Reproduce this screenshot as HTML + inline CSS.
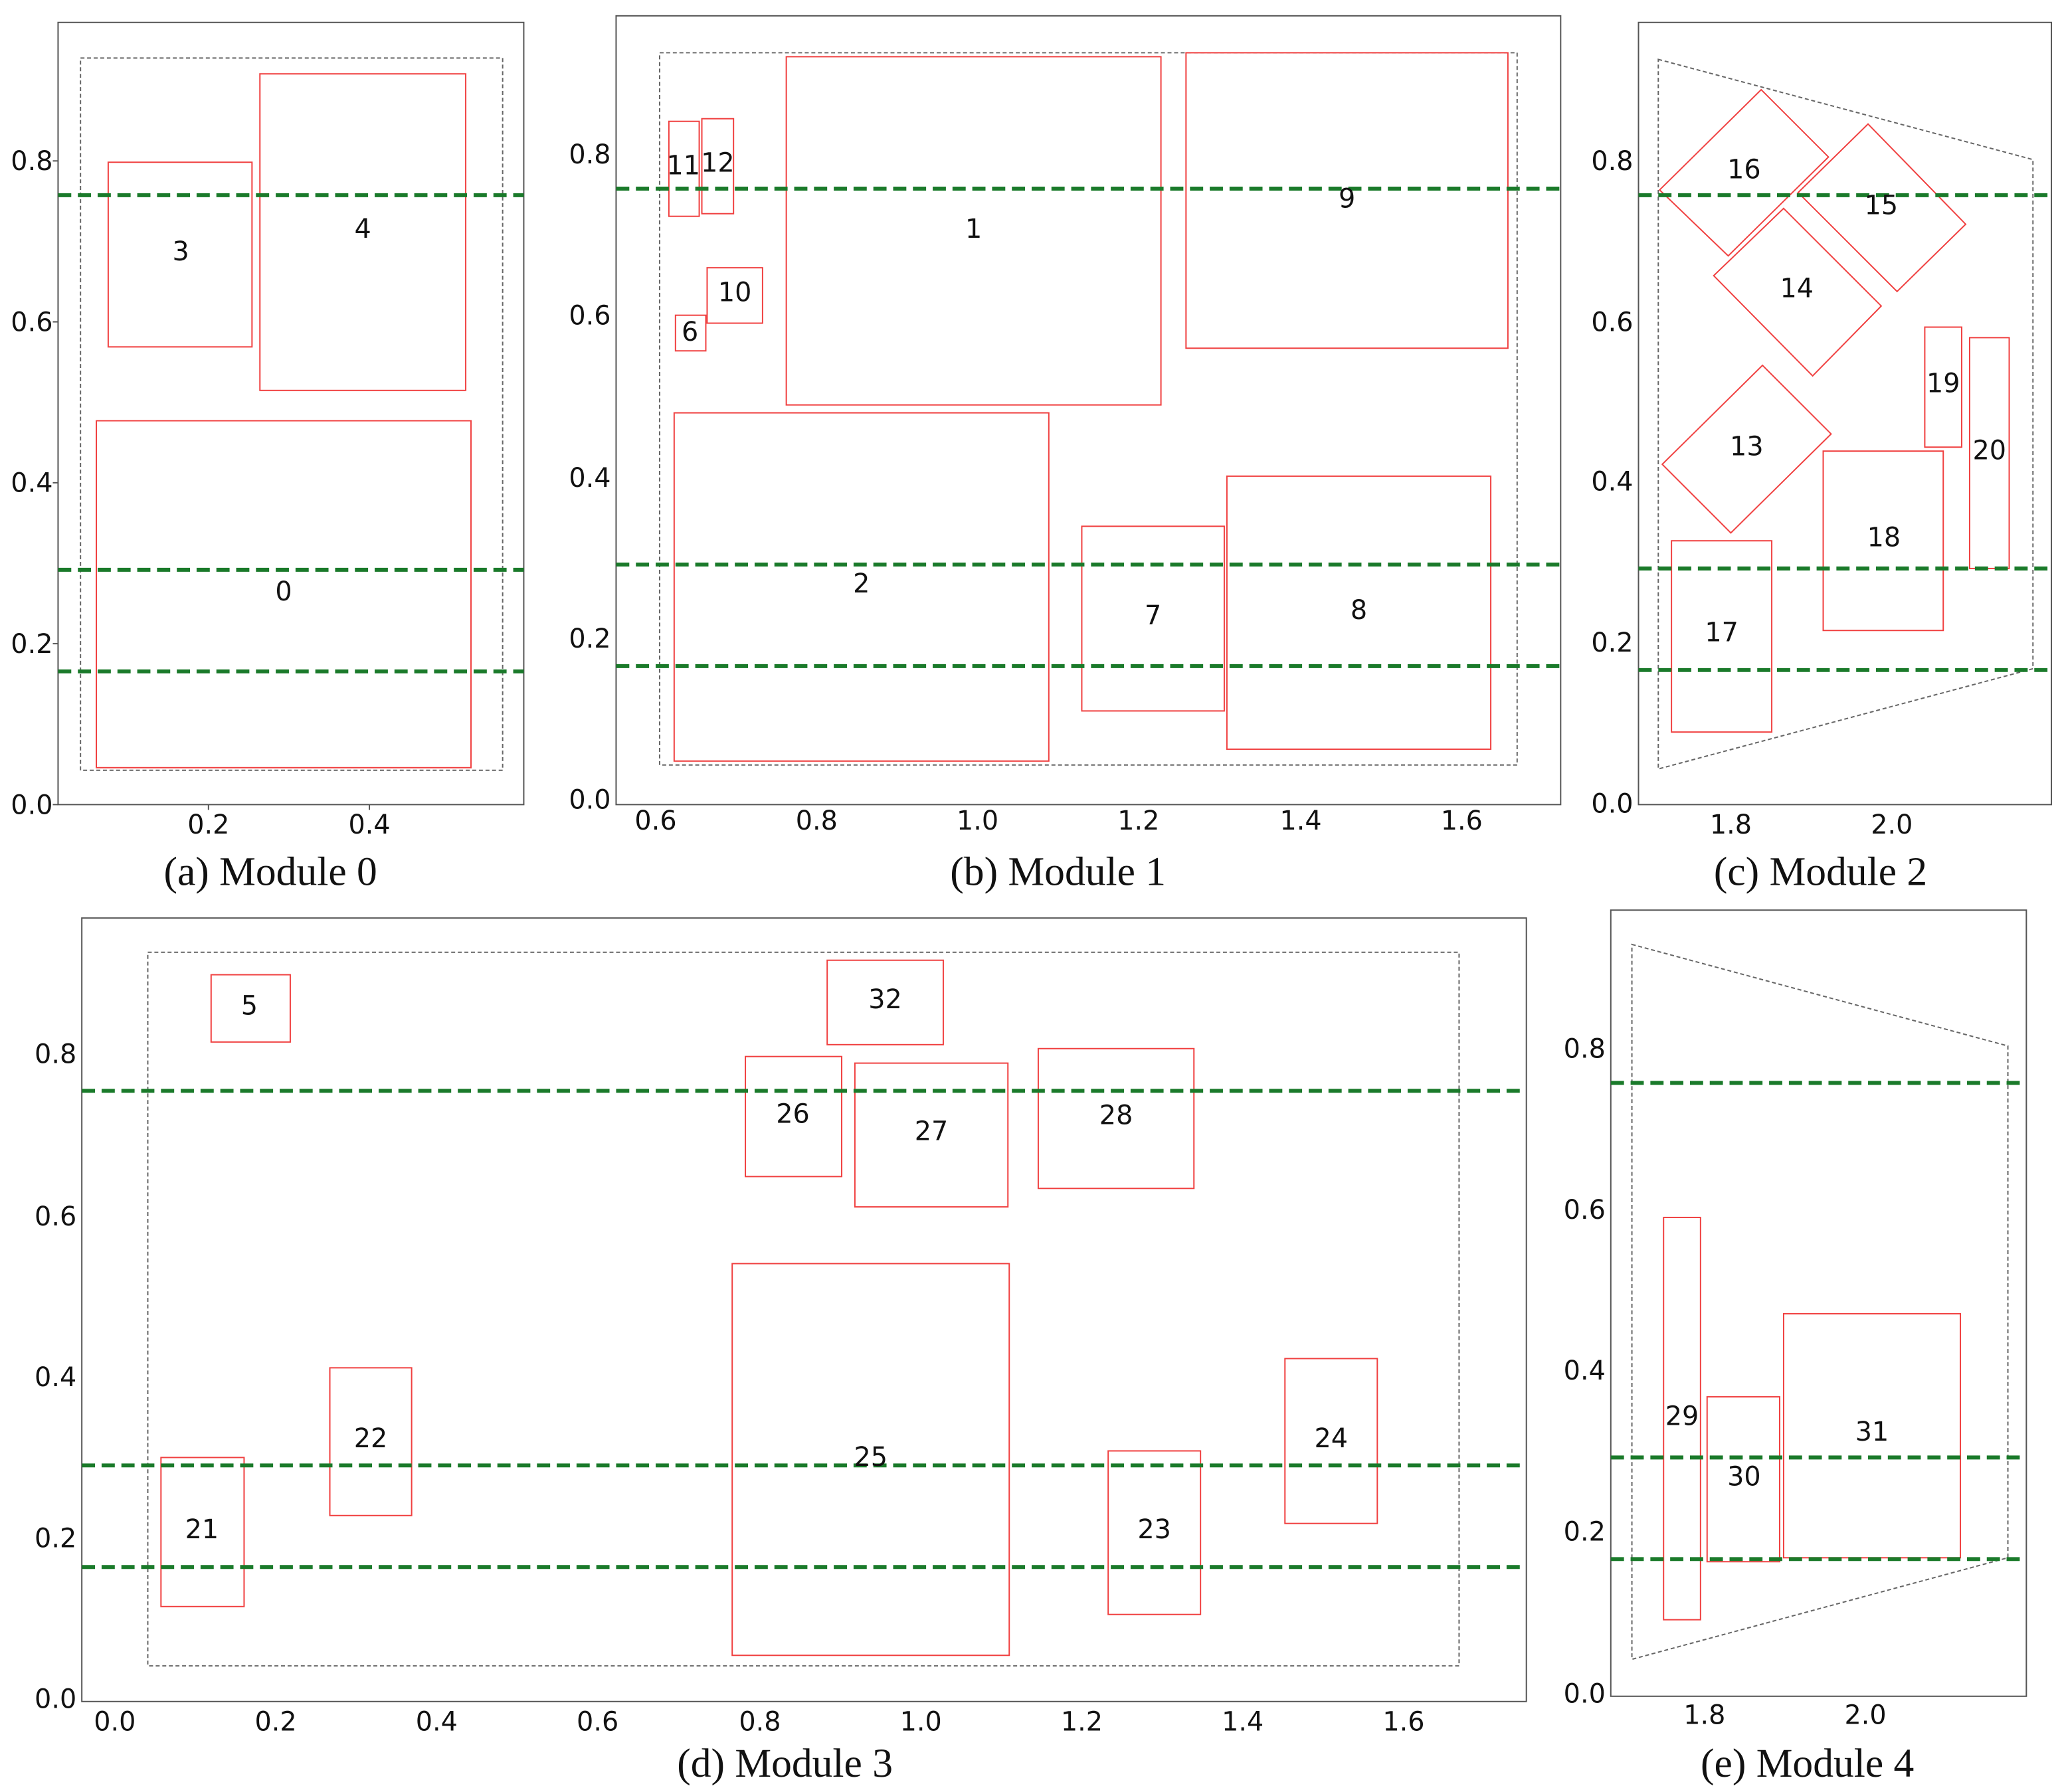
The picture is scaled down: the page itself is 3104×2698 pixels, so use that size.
<!DOCTYPE html>
<html><head><meta charset="utf-8"><style>
html,body{margin:0;padding:0;background:#fff;}
svg{display:block}
.fr{fill:none;stroke:#555;stroke-width:1}
.db{fill:none;stroke:#666;stroke-width:1;stroke-dasharray:3,2}
.g{stroke:#1a7a2a;stroke-width:3;stroke-dasharray:10,5}
.r{fill:none;stroke:#f04040;stroke-width:1}
.t{font-family:"DejaVu Sans","Liberation Sans",sans-serif;font-size:20px;fill:#111}
.l{font-family:"DejaVu Sans","Liberation Sans",sans-serif;font-size:20px;fill:#111;text-anchor:middle;dominant-baseline:middle}
.c{font-family:"Liberation Serif",serif;font-size:31px;fill:#111;text-anchor:middle}
.tk{stroke:#555;stroke-width:1}
</style></head><body>
<svg width="3104" height="2698" viewBox="0 0 1563 1358.6" xmlns="http://www.w3.org/2000/svg">
<!-- Panel a -->
<rect class="fr" x="44" y="17" width="353" height="593"/>
<rect class="db" x="61" y="44" width="320" height="540"/>
<g class="t" text-anchor="end">
<text x="40" y="617">0.0</text><text x="40" y="495">0.2</text><text x="40" y="373">0.4</text><text x="40" y="251">0.6</text><text x="40" y="129">0.8</text></g>
<g class="t" text-anchor="middle"><text x="158" y="632">0.2</text><text x="280" y="632">0.4</text></g>
<g class="tk"><line x1="40" y1="610" x2="44" y2="610"/><line x1="40" y1="488" x2="44" y2="488"/><line x1="40" y1="366" x2="44" y2="366"/><line x1="40" y1="244" x2="44" y2="244"/><line x1="40" y1="122" x2="44" y2="122"/><line x1="158" y1="610" x2="158" y2="614"/><line x1="280" y1="610" x2="280" y2="614"/></g>
<rect class="r" x="82" y="123" width="109" height="140"/><rect class="r" x="197" y="56" width="156" height="240"/><rect class="r" x="73" y="319" width="284" height="263"/>
<line class="g" x1="44" y1="148" x2="397" y2="148"/><line class="g" x1="44" y1="432" x2="397" y2="432"/><line class="g" x1="44" y1="509" x2="397" y2="509"/>
<text class="l" x="137" y="192">3</text><text class="l" x="275" y="175">4</text><text class="l" x="215" y="450">0</text>
<text class="c" x="205" y="671">(a) Module 0</text>

<!-- Panel b -->
<rect class="fr" x="467" y="12" width="716" height="598"/>
<rect class="db" x="500" y="40" width="650" height="540"/>
<g class="t" text-anchor="end">
<text x="463" y="613">0.0</text><text x="463" y="491">0.2</text><text x="463" y="369">0.4</text><text x="463" y="246">0.6</text><text x="463" y="124">0.8</text></g>
<g class="t" text-anchor="middle"><text x="497" y="629">0.6</text><text x="619" y="629">0.8</text><text x="741" y="629">1.0</text><text x="863" y="629">1.2</text><text x="986" y="629">1.4</text><text x="1108" y="629">1.6</text></g>
<rect class="r" x="507" y="92" width="23" height="72"/><rect class="r" x="532" y="90" width="24" height="72"/><rect class="r" x="536" y="203" width="42" height="42"/><rect class="r" x="512" y="239" width="23" height="27"/>
<rect class="r" x="596" y="43" width="284" height="264"/><rect class="r" x="899" y="40" width="244" height="224"/><rect class="r" x="511" y="313" width="284" height="264"/><rect class="r" x="820" y="399" width="108" height="140"/><rect class="r" x="930" y="361" width="200" height="207"/>
<line class="g" x1="467" y1="143" x2="1183" y2="143"/><line class="g" x1="467" y1="428" x2="1183" y2="428"/><line class="g" x1="467" y1="505" x2="1183" y2="505"/>
<text class="l" x="518" y="127">11</text><text class="l" x="544" y="125">12</text><text class="l" x="557" y="223">10</text><text class="l" x="523" y="253">6</text><text class="l" x="738" y="175">1</text><text class="l" x="1021" y="152">9</text><text class="l" x="653" y="444">2</text><text class="l" x="874" y="468">7</text><text class="l" x="1030" y="464">8</text>
<text class="c" x="802" y="671">(b) Module 1</text>

<!-- Panel c -->
<rect class="fr" x="1242" y="17" width="313" height="593"/>
<polygon class="db" points="1257,45 1541,121 1541,507 1257,583"/>
<g class="t" text-anchor="end">
<text x="1238" y="616">0.0</text><text x="1238" y="494">0.2</text><text x="1238" y="372">0.4</text><text x="1238" y="251">0.6</text><text x="1238" y="129">0.8</text></g>
<g class="t" text-anchor="middle"><text x="1312" y="632">1.8</text><text x="1434" y="632">2.0</text></g>
<polygon class="r" points="1335,68 1386,119 1310,194 1258,144"/>
<polygon class="r" points="1416,94 1490,170 1438,221 1363,146"/>
<polygon class="r" points="1352,158 1426,232 1374,285 1299,209"/>
<polygon class="r" points="1336,277 1388,329 1312,404 1260,352"/>
<rect class="r" x="1459" y="248" width="28" height="91"/><rect class="r" x="1493" y="256" width="30" height="175"/><rect class="r" x="1382" y="342" width="91" height="136"/><rect class="r" x="1267" y="410" width="76" height="145"/>
<line class="g" x1="1242" y1="148" x2="1555" y2="148"/><line class="g" x1="1242" y1="431" x2="1555" y2="431"/><line class="g" x1="1242" y1="508" x2="1555" y2="508"/>
<text class="l" x="1322" y="130">16</text><text class="l" x="1426" y="157">15</text><text class="l" x="1362" y="220">14</text><text class="l" x="1324" y="340">13</text><text class="l" x="1473" y="292">19</text><text class="l" x="1508" y="343">20</text><text class="l" x="1428" y="409">18</text><text class="l" x="1305" y="481">17</text>
<text class="c" x="1380" y="671">(c) Module 2</text>

<!-- Panel d -->
<rect class="fr" x="62" y="696" width="1095" height="594"/>
<rect class="db" x="112" y="722" width="994" height="541"/>
<g class="t" text-anchor="end">
<text x="58" y="1295">0.0</text><text x="58" y="1173">0.2</text><text x="58" y="1051">0.4</text><text x="58" y="929">0.6</text><text x="58" y="806">0.8</text></g>
<g class="t" text-anchor="middle"><text x="87" y="1312">0.0</text><text x="209" y="1312">0.2</text><text x="331" y="1312">0.4</text><text x="453" y="1312">0.6</text><text x="576" y="1312">0.8</text><text x="698" y="1312">1.0</text><text x="820" y="1312">1.2</text><text x="942" y="1312">1.4</text><text x="1064" y="1312">1.6</text></g>
<rect class="r" x="160" y="739" width="60" height="51"/><rect class="r" x="627" y="728" width="88" height="64"/><rect class="r" x="565" y="801" width="73" height="91"/><rect class="r" x="648" y="806" width="116" height="109"/><rect class="r" x="787" y="795" width="118" height="106"/><rect class="r" x="555" y="958" width="210" height="297"/><rect class="r" x="250" y="1037" width="62" height="112"/><rect class="r" x="122" y="1105" width="63" height="113"/><rect class="r" x="840" y="1100" width="70" height="124"/><rect class="r" x="974" y="1030" width="70" height="125"/>
<line class="g" x1="62" y1="827" x2="1157" y2="827"/><line class="g" x1="62" y1="1111" x2="1157" y2="1111"/><line class="g" x1="62" y1="1188" x2="1157" y2="1188"/>
<text class="l" x="189" y="764">5</text><text class="l" x="671" y="759">32</text><text class="l" x="601" y="846">26</text><text class="l" x="706" y="859">27</text><text class="l" x="846" y="847">28</text><text class="l" x="660" y="1106">25</text><text class="l" x="281" y="1092">22</text><text class="l" x="153" y="1161">21</text><text class="l" x="875" y="1161">23</text><text class="l" x="1009" y="1092">24</text>
<text class="c" x="595" y="1347">(d) Module 3</text>

<!-- Panel e -->
<rect class="fr" x="1221" y="690" width="315" height="596"/>
<polygon class="db" points="1237,716 1522,793 1522,1181 1237,1258"/>
<g class="t" text-anchor="end">
<text x="1217" y="1291">0.0</text><text x="1217" y="1168">0.2</text><text x="1217" y="1046">0.4</text><text x="1217" y="924">0.6</text><text x="1217" y="802">0.8</text></g>
<g class="t" text-anchor="middle"><text x="1292" y="1307">1.8</text><text x="1414" y="1307">2.0</text></g>
<rect class="r" x="1261" y="923" width="28" height="305"/><rect class="r" x="1294" y="1059" width="55" height="125"/><rect class="r" x="1352" y="996" width="134" height="185"/>
<line class="g" x1="1221" y1="821" x2="1536" y2="821"/><line class="g" x1="1221" y1="1105" x2="1536" y2="1105"/><line class="g" x1="1221" y1="1182" x2="1536" y2="1182"/>
<text class="l" x="1275" y="1075">29</text><text class="l" x="1322" y="1121">30</text><text class="l" x="1419" y="1087">31</text>
<text class="c" x="1370" y="1347">(e) Module 4</text>
</svg>
</body></html>
